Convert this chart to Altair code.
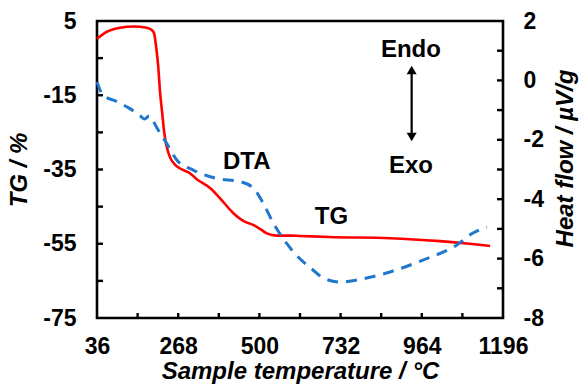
import altair as alt
import pandas as pd

# TG curve (mass change, %) versus sample temperature (°C)
tg_temp = [36, 64, 102, 140, 178, 192, 199, 206, 211, 216, 222, 228, 235, 245, 258,
           275, 300, 321, 359, 387, 425, 455, 482, 505, 521, 550, 587, 616, 700, 873,
           1016, 1100, 1159]
tg_val = [0.2, 2.1, 3.2, 3.5, 3.2, 2.6, 1.7, -2.8, -7.3, -14.0, -19.5, -25.0, -28.8,
          -31.8, -33.6, -34.8, -35.9, -37.6, -40.0, -42.7, -46.7, -48.9, -49.9, -51.2,
          -52.2, -52.8, -52.8, -52.9, -53.2, -53.5, -54.3, -55.0, -55.6]

# DTA curve (heat flow, µV/g) versus sample temperature (°C)
dta_temp = [36, 53, 90, 130, 160, 172, 185, 195, 205, 235, 264, 311, 378, 445, 483,
            511, 540, 578, 610, 650, 682, 730, 779, 873, 967, 1064, 1110, 1150]
dta_val = [-0.05, -0.49, -0.7, -0.95, -1.2, -1.3, -1.2, -1.33, -1.55, -2.12, -2.68,
           -3.02, -3.30, -3.41, -3.63, -4.14, -4.81, -5.49, -5.94, -6.35, -6.65, -6.79,
           -6.72, -6.45, -6.05, -5.54, -5.14, -4.94]

x_labels = [36, 268, 500, 732, 964, 1196]
x_minor = [152, 268, 384, 500, 616, 732, 848, 964, 1080]
tg_labels = [-75, -55, -35, -15, 5]
tg_minor = [-65, -55, -45, -35, -25, -15, -5]
hf_labels = [-8, -6, -4, -2, 0, 2]
hf_minor = [-7, -6, -5, -4, -3, -2, -1, 0, 1]

FONT = "Liberation Sans"
W, H = 406, 297
RED = "#FF0000"
BLUE = "#1F78CC"
PLAIN = "datum.value + ''"  # integer labels with an ASCII hyphen for negatives

tg_df = pd.DataFrame({"T": tg_temp, "TG": tg_val})
dta_df = pd.DataFrame({"T": dta_temp, "HF": dta_val})

x_scale = alt.Scale(domain=[36, 1196], nice=False, zero=False)
tg_scale = alt.Scale(domain=[-75, 5], nice=False, zero=False)
hf_scale = alt.Scale(domain=[-8, 2], nice=False, zero=False)

x_axis = alt.Axis(values=x_labels, labelExpr=PLAIN, title="Sample temperature / °C", ticks=False,
                  domain=False, grid=False, labelPadding=17, labelFlush=False,
                  titleX=203, titleY=53, titleBaseline="middle", titleAlign="center",
                  titleFontStyle="italic")
tg_axis = alt.Axis(values=tg_labels, labelExpr=PLAIN, title="TG / %", ticks=False, domain=False,
                   grid=False, labelPadding=21, titleAngle=270, titleX=-78,
                   titleY=148.5, titleAlign="center", titleBaseline="middle",
                   titleFontStyle="italic")
hf_axis = alt.Axis(orient="right", values=hf_labels, labelExpr=PLAIN, title="Heat flow / µV/g",
                   ticks=False, domain=False, grid=False, labelPadding=20,
                   titleAngle=270, titleX=62, titleY=137, titleAlign="center",
                   titleBaseline="middle", titleFontStyle="italic")


def xenc(field):
    return alt.X(field, scale=x_scale, axis=x_axis)


def tgenc(field):
    return alt.Y(field, scale=tg_scale, axis=tg_axis)


def hfenc(field):
    return alt.Y(field, scale=hf_scale, axis=hf_axis)


tg_line = alt.Chart(tg_df).mark_line(color=RED, strokeWidth=2.6, interpolate="monotone").encode(
    x=xenc("T:Q"), y=tgenc("TG:Q"),
)

# inward tick marks on the left and bottom edges
tg_ticks = alt.Chart(pd.DataFrame({"v": tg_minor})).mark_rule(color="black", strokeWidth=2.4).encode(
    y=tgenc("v:Q"), x=alt.value(0), x2=alt.value(6),
)
x_ticks = alt.Chart(pd.DataFrame({"T": x_minor})).mark_rule(color="black", strokeWidth=2.4).encode(
    x=xenc("T:Q"), y=alt.value(H - 5), y2=alt.value(H),
)

# annotations placed in temperature / TG coordinates
labels_df = pd.DataFrame({
    "T": [933, 933, 464, 706],
    "TG": [-2.8, -34.1, -32.85, -47.8],
    "txt": ["Endo", "Exo", "DTA", "TG"],
})
labels = alt.Chart(labels_df).mark_text(font=FONT, fontSize=24, fontWeight="bold",
                                        color="black", baseline="middle", align="center").encode(
    x=xenc("T:Q"), y=tgenc("TG:Q"), text="txt:N",
)

arrow_df = pd.DataFrame({"T": [935], "top": [-8.2], "bot": [-26.25]})
arrow_shaft = alt.Chart(arrow_df).mark_rule(color="black", strokeWidth=2.2).encode(
    x=xenc("T:Q"), y=tgenc("top:Q"), y2="bot:Q",
)
arrow_up = alt.Chart(arrow_df).mark_point(shape="triangle-up", filled=True, color="black",
                                          size=100, opacity=1).encode(
    x=xenc("T:Q"), y=tgenc("top:Q"),
)
arrow_down = alt.Chart(arrow_df).mark_point(shape="triangle-down", filled=True, color="black",
                                            size=100, opacity=1).encode(
    x=xenc("T:Q"), y=tgenc("bot:Q"),
)

dta_line = alt.Chart(dta_df).mark_line(color=BLUE, strokeWidth=3, strokeDash=[11, 8],
                                       interpolate="monotone").encode(
    x=xenc("T:Q"), y=hfenc("HF:Q"),
)
hf_ticks = alt.Chart(pd.DataFrame({"v": hf_minor})).mark_rule(color="black", strokeWidth=2.4).encode(
    y=hfenc("v:Q"), x=alt.value(W - 6), x2=alt.value(W),
)

left_group = alt.layer(tg_line, tg_ticks, x_ticks, labels, arrow_shaft, arrow_up, arrow_down)
right_group = alt.layer(dta_line, hf_ticks)

chart = alt.layer(left_group, right_group).resolve_scale(y="independent").properties(
    width=W, height=H,
    autosize=alt.AutoSizeParams(type="none"),
    padding={"left": 97, "top": 21, "right": 76, "bottom": 67},
    background="white",
).configure_view(
    stroke="black", strokeWidth=2.6
).configure_axis(
    labelFont=FONT, labelFontSize=23, labelFontWeight="bold", labelColor="black",
    titleFont=FONT, titleFontSize=24, titleFontWeight="bold", titleColor="black",
)

chart.save("out.html", embed_options={"renderer": "svg", "actions": False})
